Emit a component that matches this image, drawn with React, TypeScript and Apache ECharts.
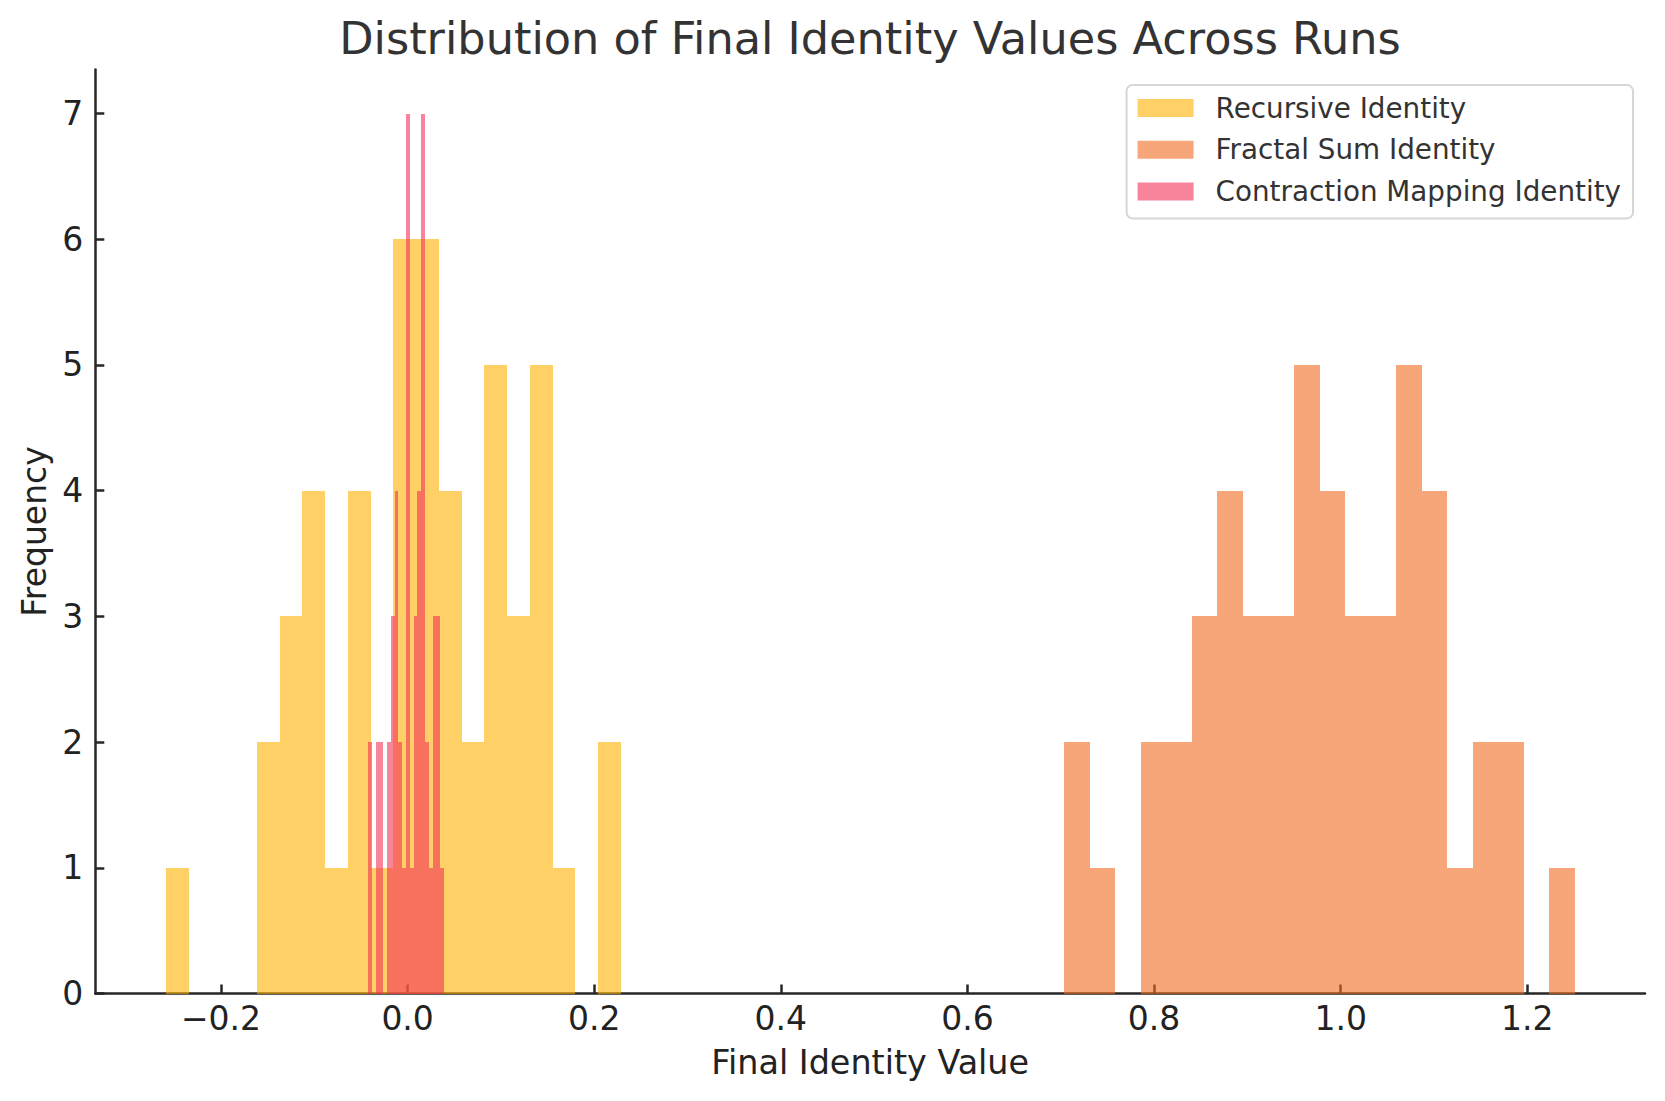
import React, { useEffect, useRef } from "react";
import * as echarts from "echarts";

const FONT = "DejaVu Sans";

// Histogram bin counts (20 bins per series)
const recursiveCounts = [1, 0, 0, 0, 2, 3, 4, 1, 4, 1, 6, 6, 4, 2, 5, 3, 5, 1, 0, 2];
const recursiveStart = -0.259;
const recursiveWidth = 0.02437;

const fractalCounts = [2, 1, 0, 2, 2, 3, 4, 3, 3, 5, 4, 3, 3, 5, 4, 1, 2, 2, 0, 1];
const fractalStart = 0.7037;
const fractalWidth = 0.02736;

const contractionCounts = [2, 0, 2, 2, 0, 2, 3, 4, 2, 1, 7, 1, 3, 4, 7, 2, 1, 3, 3, 1];
const contractionStart = -0.0425;
const contractionWidth = 0.004073;

const xTicks = [-0.2, 0, 0.2, 0.4, 0.6, 0.8, 1.0, 1.2];
const yTicks = [0, 1, 2, 3, 4, 5, 6, 7];

const seriesNames = ["Recursive Identity", "Fractal Sum Identity", "Contraction Mapping Identity"];
const seriesColors = ["rgba(255,176,0,0.6)", "rgba(242,107,32,0.6)", "rgba(244,50,90,0.6)"];

function binsOf(counts: number[], start: number, width: number) {
  return counts.map((c, i) => [start + i * width, start + (i + 1) * width, c]);
}

const renderBar = (params: any, api: any) => {
  const x0 = api.value(0);
  const x1 = api.value(1);
  const c = api.value(2);
  if (!c) return null;
  const p0 = api.coord([x0, c]);
  const p1 = api.coord([x1, 0]);
  const left = Math.round(p0[0]);
  const right = Math.round(p1[0]);
  const top = Math.round(p0[1]);
  const bottom = Math.round(p1[1]);
  return {
    type: "rect",
    shape: { x: left, y: top, width: right - left, height: bottom - top },
    style: api.style(),
  };
};

export default function App() {
  const ref = useRef<HTMLDivElement>(null);
  useEffect(() => {
    document.body.style.margin = "0";
    const chart = echarts.init(ref.current!, undefined, { renderer: "svg" });
    const datasets = [
      binsOf(recursiveCounts, recursiveStart, recursiveWidth),
      binsOf(fractalCounts, fractalStart, fractalWidth),
      binsOf(contractionCounts, contractionStart, contractionWidth),
    ];
    chart.setOption({
      animation: false,
      backgroundColor: "#ffffff",
      title: {
        text: "Distribution of Final Identity Values Across Runs",
        left: 870,
        top: 16.5,
        padding: 0,
        textAlign: "center",
        textStyle: { fontFamily: FONT, fontSize: 44.6, fontWeight: "normal", color: "#333333" },
      },
      legend: {
        orient: "vertical",
        right: 32,
        top: 85,
        icon: "rect",
        itemWidth: 56,
        itemHeight: 18,
        itemGap: 13.7,
        padding: [9, 12, 13, 11],
        borderColor: "#d6d6d6",
        borderWidth: 2,
        borderRadius: 6,
        backgroundColor: "rgba(255,255,255,0.8)",
        data: seriesNames,
        textStyle: { fontFamily: FONT, fontSize: 27.8, color: "#333333", padding: [0, 0, 0, 17] },
      },
      grid: { left: 95.3, right: 20, top: 69.5, bottom: 107.5, containLabel: false, outerBoundsMode: "none" },
      xAxis: {
        type: "value",
        min: -0.3347,
        max: 1.3261,
        name: "Final Identity Value",
        nameLocation: "middle",
        nameGap: 52,
        nameTextStyle: { fontFamily: FONT, fontSize: 33.4, color: "#222222" },
        axisLine: { show: true, onZero: false, lineStyle: { color: "#262626", width: 2.5 } },
        axisTick: { show: true, inside: true, length: 9, customValues: xTicks, lineStyle: { color: "#262626", width: 2.5 } },
        axisLabel: {
          customValues: xTicks,
          margin: 8.5,
          fontFamily: FONT,
          fontSize: 33,
          color: "#222222",
          formatter: (v: number) => (v < 0 ? "\u2212" : "") + Math.abs(v).toFixed(1),
        },
        splitLine: { show: false },
      },
      yAxis: {
        type: "value",
        min: 0,
        max: 7.35,
        name: "Frequency",
        nameLocation: "middle",
        nameGap: 41.5,
        nameRotate: 90,
        nameTextStyle: { fontFamily: FONT, fontSize: 33, color: "#222222" },
        axisLine: { show: true, onZero: false, lineStyle: { color: "#262626", width: 2.5 } },
        axisTick: { show: true, inside: true, length: 9, customValues: yTicks, lineStyle: { color: "#262626", width: 2.5 } },
        axisLabel: {
          customValues: yTicks,
          margin: 12,
          fontFamily: FONT,
          fontSize: 33,
          color: "#222222",
          formatter: (v: number) => String(Math.round(v)),
        },
        splitLine: { show: false },
      },
      series: seriesNames.map((name, i) => ({
        type: "custom",
        name,
        renderItem: renderBar,
        itemStyle: { color: seriesColors[i] },
        encode: { x: [0, 1], y: 2 },
        data: datasets[i],
        z: 2 + i,
      })),
    });
    return () => chart.dispose();
  }, []);
  return (
    <div
      ref={ref}
      style={{ position: "absolute", left: 0, top: 0, width: "1665px", height: "1101px" }}
    />
  );
}
